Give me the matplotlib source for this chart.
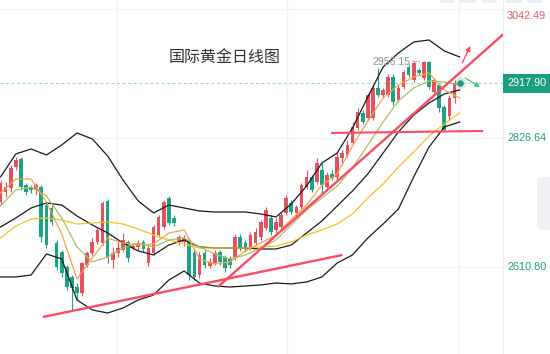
import matplotlib
matplotlib.use("Agg")
import matplotlib.pyplot as plt
from matplotlib.patches import FancyBboxPatch

plt.rcParams['font.family'] = ['Noto Sans CJK SC', 'DejaVu Sans']

# ---------------- data ----------------
opens = [2719.6, 2736.3, 2743.0, 2778.1, 2791.5, 2748.0, 2743.0, 2739.6, 2744.7, 2714.5,
         2709.5, 2651.0, 2635.9, 2610.8, 2594.1, 2577.3, 2567.3, 2614.1, 2634.2, 2652.6,
         2651.0, 2721.2, 2622.5, 2634.2, 2639.2, 2652.6, 2642.6, 2644.3, 2652.6, 2617.5,
         2634.2, 2664.3, 2677.7, 2726.3, 2692.8, 2652.6, 2652.6, 2656.0, 2634.2, 2597.4,
         2634.2, 2612.5, 2617.5, 2635.9, 2627.5, 2625.9, 2627.5, 2661.0, 2651.0, 2642.6,
         2651.0, 2661.0, 2676.1, 2692.8, 2672.7, 2677.7, 2701.2, 2717.9, 2701.2, 2711.2,
         2744.7, 2761.4, 2753.0, 2773.1, 2744.7, 2766.4, 2761.4, 2793.2, 2798.2, 2818.3,
         2843.4, 2868.5, 2860.1, 2860.1, 2910.3, 2898.6, 2898.6, 2928.7, 2890.2, 2912.0,
         2945.4, 2923.7, 2940.4, 2927.0, 2953.8, 2903.6, 2915.3, 2878.5, 2863.5, 2893.6]
highs = [2756.4, 2753.0, 2781.5, 2794.9, 2794.9, 2751.3, 2748.0, 2751.3, 2748.0, 2717.9,
         2714.5, 2656.0, 2639.2, 2614.1, 2597.4, 2584.0, 2619.2, 2637.6, 2659.3, 2676.1,
         2721.2, 2724.6, 2644.3, 2652.6, 2667.7, 2656.0, 2651.0, 2656.0, 2656.0, 2647.6,
         2681.1, 2697.8, 2722.9, 2729.6, 2697.8, 2664.3, 2664.3, 2659.3, 2639.2, 2635.9,
         2639.2, 2625.9, 2639.2, 2639.2, 2630.9, 2629.2, 2666.0, 2666.0, 2656.0, 2669.4,
         2676.1, 2689.4, 2711.2, 2697.8, 2692.8, 2702.8, 2731.3, 2722.9, 2714.5, 2751.3,
         2773.1, 2764.7, 2793.2, 2784.8, 2769.8, 2773.1, 2803.2, 2806.6, 2823.3, 2853.4,
         2876.8, 2873.5, 2901.9, 2915.3, 2943.8, 2910.3, 2933.7, 2933.7, 2915.3, 2940.4,
         2950.5, 2955.5, 2943.8, 2956.15, 2955.5, 2927.0, 2918.7, 2881.9, 2898.6, 2923.7]
lows = [2714.5, 2727.9, 2736.3, 2773.1, 2739.6, 2731.3, 2734.6, 2731.3, 2652.6, 2642.6,
        2681.1, 2605.8, 2594.1, 2572.3, 2538.9, 2555.6, 2562.3, 2610.8, 2630.9, 2649.3,
        2647.6, 2617.5, 2609.1, 2627.5, 2635.9, 2619.2, 2639.2, 2639.2, 2635.9, 2612.5,
        2630.9, 2661.0, 2674.4, 2681.1, 2679.4, 2647.6, 2645.9, 2589.0, 2589.0, 2592.4,
        2609.1, 2609.1, 2614.1, 2614.1, 2602.4, 2609.1, 2622.5, 2637.6, 2635.9, 2639.2,
        2647.6, 2656.0, 2672.7, 2664.3, 2667.7, 2672.7, 2697.8, 2699.5, 2696.1, 2707.8,
        2741.3, 2736.3, 2749.7, 2734.6, 2739.6, 2756.4, 2758.0, 2781.5, 2794.9, 2814.9,
        2840.0, 2850.1, 2856.8, 2856.8, 2895.2, 2893.6, 2895.2, 2881.9, 2886.9, 2908.6,
        2928.7, 2920.3, 2932.1, 2923.7, 2908.6, 2900.3, 2870.1, 2836.7, 2856.8, 2885.2]
closes = [2751.3, 2744.7, 2776.4, 2789.8, 2744.7, 2736.3, 2739.6, 2748.0, 2661.0, 2647.6,
          2686.1, 2610.8, 2600.8, 2577.3, 2575.7, 2567.3, 2617.5, 2634.2, 2652.6, 2672.7,
          2717.9, 2627.5, 2634.2, 2642.6, 2656.0, 2625.9, 2645.9, 2651.0, 2640.9, 2642.6,
          2677.7, 2694.5, 2719.6, 2684.4, 2684.4, 2661.0, 2659.3, 2597.4, 2594.1, 2630.9,
          2614.1, 2619.2, 2634.2, 2619.2, 2609.1, 2614.1, 2661.0, 2642.6, 2642.6, 2664.3,
          2669.4, 2686.1, 2706.2, 2669.4, 2686.1, 2697.8, 2726.3, 2702.8, 2711.2, 2748.0,
          2761.4, 2739.6, 2784.8, 2748.0, 2764.7, 2759.7, 2794.9, 2801.5, 2814.9, 2845.0,
          2870.1, 2853.4, 2898.6, 2910.3, 2898.6, 2907.0, 2928.7, 2886.9, 2910.3, 2937.1,
          2932.1, 2952.1, 2935.4, 2953.8, 2912.0, 2923.7, 2876.8, 2840.0, 2893.6, 2917.9]

line_index = list(range(0, 91, 3))
boll_upper = [2761.4, 2799.9, 2808.2, 2798.2, 2814.9, 2835.0, 2825.0, 2796.5, 2756.4, 2721.2,
              2701.2, 2714.5, 2709.5, 2704.5, 2702.8, 2702.8, 2702.8, 2699.5, 2694.5, 2716.2,
              2746.3, 2784.8, 2801.5, 2843.4, 2895.2, 2945.4, 2968.9, 2987.3, 2990.6, 2972.2,
              2962.2]
boll_mid = [2677.7, 2692.8, 2709.5, 2717.9, 2714.5, 2696.1, 2681.1, 2667.7, 2651.0, 2637.6,
            2630.9, 2647.6, 2656.0, 2644.3, 2642.6, 2642.6, 2642.6, 2640.9, 2640.9, 2647.6,
            2667.7, 2687.8, 2712.9, 2738.0, 2766.4, 2801.5, 2836.7, 2865.1, 2885.2, 2900.3,
            2907.0]
boll_lower = [2594.1, 2594.1, 2597.4, 2632.6, 2624.2, 2555.6, 2538.9, 2533.8, 2542.2, 2555.6,
              2563.9, 2589.0, 2604.1, 2584.0, 2579.0, 2577.3, 2579.0, 2580.7, 2584.0, 2582.4,
              2585.7, 2594.1, 2617.5, 2630.9, 2659.3, 2682.7, 2707.8, 2761.4, 2811.6, 2845.0,
              2853.4]
ma_fast = [2734.6, 2758.0, 2758.0, 2719.6, 2666.0, 2590.7, 2625.9, 2659.3, 2651.0, 2647.6,
           2649.3, 2667.7, 2672.7, 2624.2, 2615.8, 2619.2, 2637.6, 2651.0, 2664.3, 2690.5,
           2714.5, 2748.0, 2766.4, 2813.3, 2855.1, 2893.6, 2915.3, 2928.7, 2935.4, 2907.0,
           2893.6]
ma_mid = [2712.9, 2739.6, 2744.7, 2729.6, 2692.8, 2644.3, 2619.2, 2627.5, 2642.6, 2651.0,
          2644.3, 2656.0, 2659.3, 2644.3, 2632.6, 2624.2, 2630.9, 2642.6, 2656.0, 2681.1,
          2706.2, 2726.3, 2746.3, 2776.4, 2814.9, 2853.4, 2888.6, 2910.3, 2922.0, 2920.3,
          2915.3]
ma_slow = [2659.3, 2679.4, 2691.1, 2692.8, 2689.4, 2682.7, 2684.4, 2686.1, 2682.7, 2674.4,
           2664.3, 2656.0, 2649.3, 2642.6, 2642.6, 2642.6, 2642.6, 2644.3, 2645.9, 2652.6,
           2664.3, 2672.7, 2682.7, 2699.5, 2726.3, 2749.7, 2778.1, 2803.2, 2830.0, 2850.1,
           2868.5]

title_text = "国际黄金日线图"
last_price = 2917.90
last_index = 90
peak_price = 2956.15
peak_index = 83
scale_prices = [3042.49, 2917.90, 2826.64, 2610.80]
grid_prices = [3042.49, 2826.64, 2610.80]
date_grid = [22.8, 56.2, 89.9]

support_x, support_y = [8.3, 67.0], [2527.1, 2630.9]
channel_x, channel_y = [42.6, 99.5], [2577.3, 3007.3]
flat_x, flat_y = [64.8, 94.6], [2835.0, 2838.4]
arrow_up_x, arrow_up_y = [90.5, 92.1], [2952.1, 2980.6]
arrow_dn_x, arrow_dn_y = [91.1, 94.0], [2927.0, 2912.0]

# ---------------- styles ----------------
UP = '#e5515f'
DOWN = '#1ba384'
TEAL = '#1a9e80'
TREND = '#fb4c62'

W, H = 550, 354
fig = plt.figure(figsize=(W / 100, H / 100), dpi=100, facecolor='white')
ax = fig.add_axes([0, 0, 503 / W, 1])
ax.set_xlim(-0.1, 98.5)
ax.set_ylim(2465.2, 3057.5)
for s in ['top', 'left', 'bottom']:
    ax.spines[s].set_visible(False)
ax.spines['right'].set_color('#eceef2')
ax.spines['right'].set_linewidth(0.8)
ax.set_xticks([])
ax.set_yticks([])

for gp in grid_prices:
    ax.axhline(gp, color='#f1f2f4', lw=1.0, zorder=0)
for gx in date_grid:
    ax.axvline(gx, color='#f1f2f4', lw=1.0, zorder=0)

ax.axhline(last_price, color='#92d8c6', lw=0.8, ls=(0, (2.5, 2.5)), zorder=1)

# candles
for i, (o, h, l, c) in enumerate(zip(opens, highs, lows, closes)):
    col = UP if c >= o else DOWN
    ax.vlines(i, l, h, color=col, lw=0.8, zorder=2)
    bot = min(o, c)
    hgt = max(abs(c - o), 1.6)
    ax.bar(i, hgt, bottom=bot, width=0.72, color=col, lw=0, zorder=3)

# indicator lines
ax.plot(line_index, boll_upper, color='#1a1a1a', lw=0.9, zorder=4)
ax.plot(line_index, boll_mid, color='#1a1a1a', lw=0.9, zorder=4)
ax.plot(line_index, boll_lower, color='#1a1a1a', lw=0.9, zorder=4)
ax.plot(line_index, ma_slow, color='#f6c21c', lw=0.9, zorder=4)
ax.plot(line_index, ma_mid, color='#a9c163', lw=0.9, zorder=4)
ax.plot(line_index, ma_fast, color='#f7a24a', lw=0.9, zorder=4)

# trend lines
ax.plot(support_x, support_y, color=TREND, lw=1.7, zorder=5, solid_capstyle='butt')
ax.plot(channel_x, channel_y, color=TREND, lw=1.7, zorder=5, solid_capstyle='butt')
ax.plot(flat_x, flat_y, color=TREND, lw=1.5, zorder=5, solid_capstyle='butt')
ax.annotate('', xy=(arrow_up_x[1], arrow_up_y[1]), xytext=(arrow_up_x[0], arrow_up_y[0]),
            arrowprops=dict(arrowstyle='-|>', color=TREND, lw=1.0, mutation_scale=7,
                            shrinkA=0, shrinkB=0), zorder=6)
ax.annotate('', xy=(arrow_dn_x[1], arrow_dn_y[1]), xytext=(arrow_dn_x[0], arrow_dn_y[0]),
            arrowprops=dict(arrowstyle='-|>', color='#38cc7e', lw=0.9, mutation_scale=7,
                            shrinkA=0, shrinkB=0), zorder=6)

# last price dot
ax.scatter([last_index], [last_price], s=70, color=TEAL, alpha=0.18, lw=0, zorder=6)
ax.scatter([last_index], [last_price], s=22, color=TEAL, lw=0, zorder=7)

# peak label
ax.plot([peak_index - 2.4, peak_index - 0.5], [peak_price, peak_price], color='#9aa0aa',
        lw=0.9, ls=(0, (1, 1.5)), zorder=6)
ax.annotate(f'{peak_price:.2f}', xy=(peak_index, peak_price), xytext=(-13, -1),
            textcoords='offset pixels', ha='right', va='center', fontsize=7.6,
            color='#8b909a', family=['Liberation Sans', 'DejaVu Sans'], zorder=7)

# price scale labels
lab_font = ['Liberation Sans', 'DejaVu Sans']
ax.annotate(f'{scale_prices[0]:.2f}', xy=(1, scale_prices[0]), xycoords=('axes fraction', 'data'),
            xytext=(4, -7), textcoords='offset pixels', ha='left', va='center',
            fontsize=7.8, color='#e35863', family=lab_font, annotation_clip=False)
ax.annotate(f'{scale_prices[1]:.2f}', xy=(1, scale_prices[1]), xycoords=('axes fraction', 'data'),
            xytext=(4, 0), textcoords='offset pixels', ha='left', va='center',
            fontsize=7.8, color='white', family=lab_font, annotation_clip=False,
            bbox=dict(boxstyle='square,pad=0.38', fc=TEAL, ec='none'))
for p in scale_prices[2:]:
    ax.annotate(f'{p:.2f}', xy=(1, p), xycoords=('axes fraction', 'data'),
                xytext=(4, 0), textcoords='offset pixels', ha='left', va='center',
                fontsize=7.8, color=TEAL, family=lab_font, annotation_clip=False)

# title
fig.text(224.5 / W, 1 - 57.5 / H, title_text, ha='center', va='center', fontsize=11.5,
         color='#333333', family=['Noto Sans CJK SC', 'DejaVu Sans'])

# side tab and top buttons (UI chrome)
tab = FancyBboxPatch((537 / W, 1 - 230 / H), 20 / W, 53 / H,
                     boxstyle='round,pad=0,rounding_size=0.012', transform=fig.transFigure,
                     fc='#eef0f4', ec='none', zorder=10)
fig.patches.append(tab)
fig.text(543.5 / W, 1 - 203 / H, '<', ha='center', va='center', fontsize=9,
         color='#6b7280', family=['DejaVu Sans'])
for bx0, bx1 in [(440, 455), (460, 477), (482, 497), (505, 522), (527, 543)]:
    b = FancyBboxPatch((bx0 / W, 1 - 3 / H), (bx1 - bx0) / W, 8 / H,
                       boxstyle='round,pad=0,rounding_size=0.006', transform=fig.transFigure,
                       fc='#eceef2', ec='none', zorder=10)
    fig.patches.append(b)

fig.savefig('out.png', dpi=100, facecolor='white')
